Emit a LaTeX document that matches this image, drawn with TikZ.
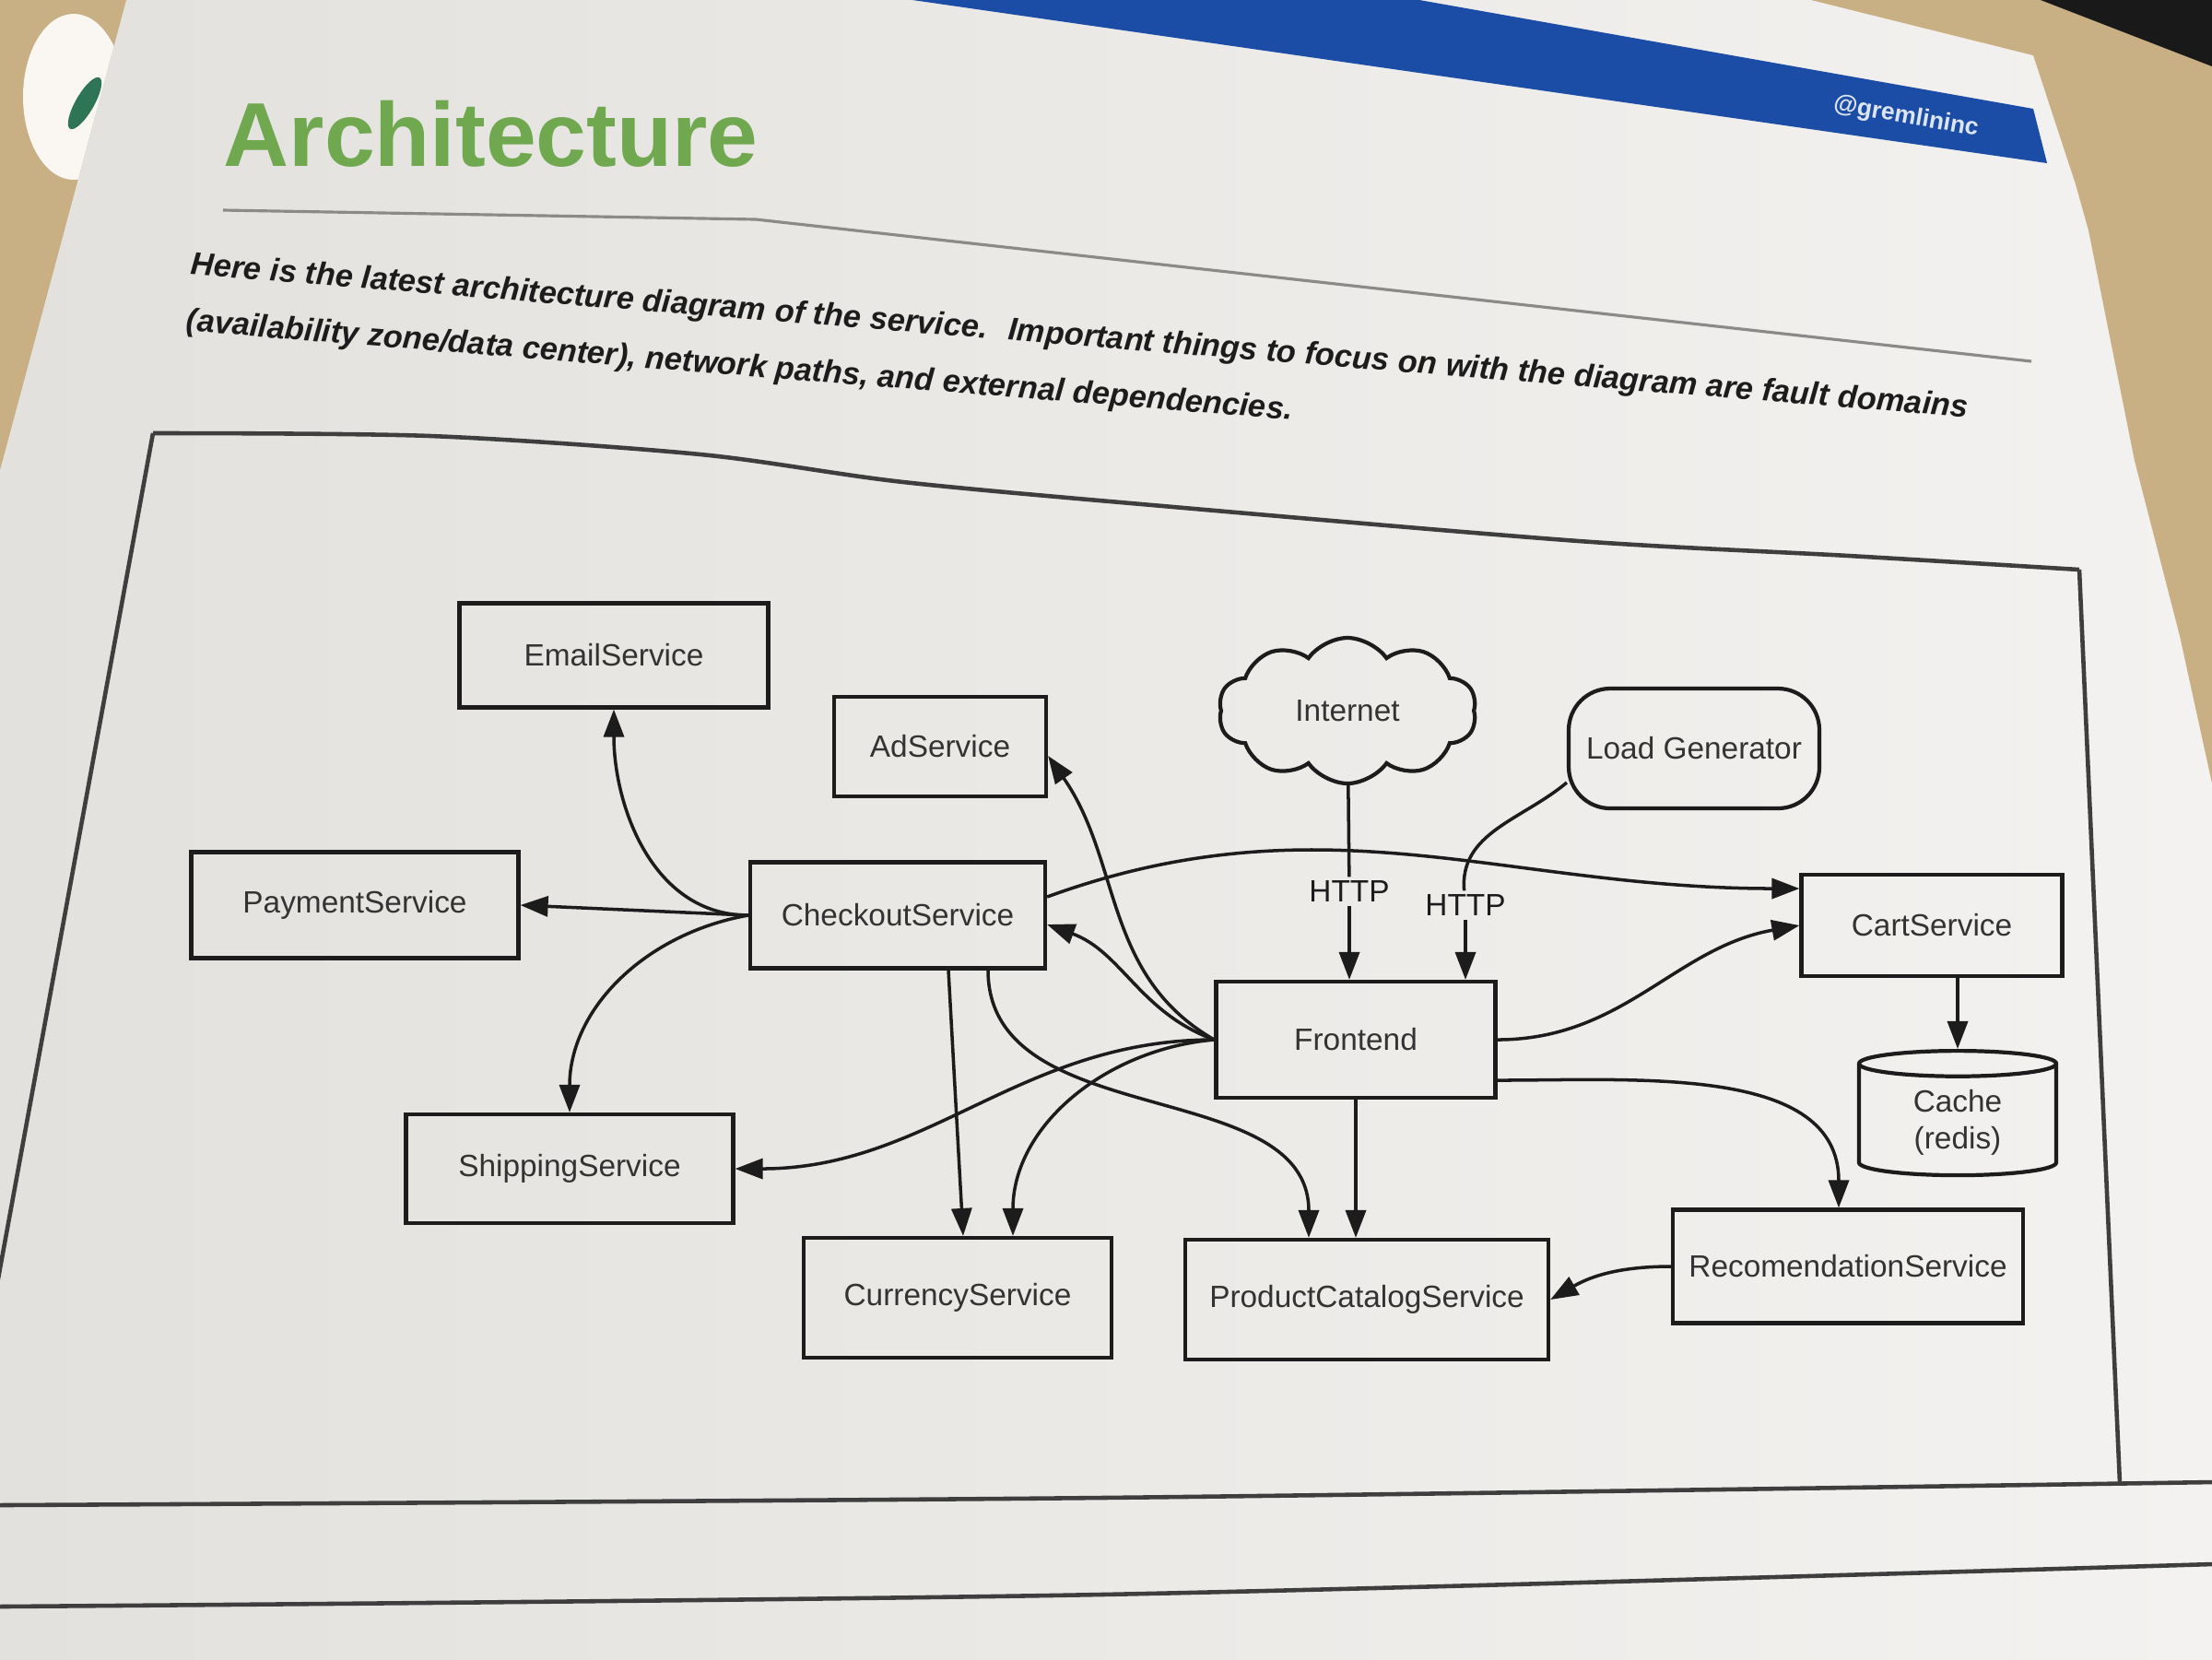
\documentclass[tikz,border=0pt]{standalone}
\usepackage{fontspec}
\setmainfont{Liberation Sans}
\setsansfont{Liberation Sans}
\usepackage{tikz}
\usetikzlibrary{arrows.meta,shapes.symbols,shapes.geometric}
\definecolor{paperD}{HTML}{E3E1DD}
\definecolor{paperL}{HTML}{F3F2F0}
\definecolor{tableB}{HTML}{C9AF84}
\definecolor{bannerB}{HTML}{1C4DA6}
\definecolor{titleG}{HTML}{6FA84F}
\definecolor{inkP}{HTML}{1C1C1C}
\definecolor{inkS}{HTML}{333333}
\definecolor{ruleG}{HTML}{8C8A88}
\definecolor{leafG}{HTML}{2E7556}
\tikzset{
  svc/.style={draw=inkP, line width=1.2pt, text=inkS,
              font=\fontsize{9.5}{11.5}\selectfont, inner sep=2pt},
  svcbox/.style={svc, rectangle},
  cloudbox/.style={svc, cloud, cloud puffs=10, cloud puff arc=110, aspect=1.7},
  loadbox/.style={svc, rectangle, rounded corners=4.5mm},
  storebox/.style={svc, cylinder, shape border rotate=90, aspect=0.25, align=center},
  flow/.style={-{Triangle[length=3mm, width=2.2mm]}, line width=1pt, color=inkP},
  wire/.style={line width=1pt, color=inkP},
  flowlab/.style={text=inkP, font=\fontsize{9.5}{11.5}\selectfont, inner sep=1pt},
  intro/.style={font=\fontsize{9.8}{17.5}\selectfont\bfseries\itshape, text=inkP,
                inner sep=0pt, align=left, anchor=north west},
  edgeline/.style={draw=inkP!85, line width=1.3pt},
}
\begin{document}
\begin{tikzpicture}
  \useasboundingbox (0,-18) rectangle (24,0);
  \clip (0,-18) rectangle (24,0);
  % sheet on the table
  \shade[left color=paperD, right color=paperL] (0,-18) rectangle (24,0);
  \fill[tableB] (0,0) -- (1.37,0) -- (0,-5.1) -- cycle;
  \begin{scope}
    \clip (0,0) -- (1.37,0) -- (0,-5.1) -- cycle;
    \fill[white!90!tableB] (0.8,-1.05) ellipse [x radius=0.55, y radius=0.9];
    \fill[leafG, rotate around={60:(0.92,-1.12)}] (0.92,-1.12) ellipse [x radius=0.32, y radius=0.1];
  \end{scope}
  \fill[tableB] (19.65,0) -- (24,0) -- (24,-8.5) -- (23.65,-6.9) -- (23.16,-5.0)
    -- (22.66,-2.5) -- (22.52,-2.0) -- (22.06,-0.6) -- cycle;
  \fill[black!90] (22.14,0) -- (24,0) -- (24,-0.72) -- cycle;
  \fill[bannerB] (9.9,0) -- (15.4,0) -- (22.06,-1.18) -- (22.21,-1.77) -- cycle;
  \node[rotate=-10, text=white!85!bannerB, font=\fontsize{7.5}{9}\selectfont\bfseries]
    (handle) at (20.68,-1.27) {@gremlininc};

  % heading
  \node[anchor=base west, inner sep=0pt, text=titleG,
        font=\fontsize{28}{32}\selectfont\bfseries] (title) at (2.42,-1.80) {Architecture};
  \draw[ruleG, line width=0.9pt] (2.42,-2.28) -- (8.2,-2.38) -- (22.04,-3.92);
  \node[intro, rotate=-4.6] (intro) at (2.08,-2.72)
    {Here is the latest architecture diagram of the service.~ Important things to focus on with the diagram are fault domains\\
     (availability zone/data center), network paths, and external dependencies.};

  % frame
  \draw[edgeline] plot[smooth] coordinates {(1.66,-4.70) (4.67,-4.73) (7.60,-4.93)
    (9.80,-5.23) (12.73,-5.50) (17.13,-5.87) (20.06,-6.03) (22.56,-6.18)};
  \draw[edgeline] (1.66,-4.70) -- (-0.47,-16.33);
  \draw[edgeline] (22.56,-6.18) -- (23.0,-16.1);
  \draw[edgeline] plot[smooth] coordinates {(0,-16.33) (11.94,-16.25) (24,-16.08)};
  \draw[edgeline] plot[smooth] coordinates {(0,-17.43) (11.94,-17.30) (24,-16.97)};

  % services
  \node[svcbox, minimum width=3.35cm, minimum height=1.13cm] (email) at (6.66,-7.11) {EmailService};
  \node[svcbox, minimum width=2.30cm, minimum height=1.08cm] (ad) at (10.20,-8.10) {AdService};
  \node[svcbox, minimum width=3.20cm, minimum height=1.15cm] (checkout) at (9.74,-9.93) {CheckoutService};
  \node[svcbox, minimum width=3.55cm, minimum height=1.15cm] (payment) at (3.85,-9.82) {PaymentService};
  \node[svcbox, minimum width=3.55cm, minimum height=1.18cm] (shipping) at (6.18,-12.68) {ShippingService};
  \node[svcbox, minimum width=3.34cm, minimum height=1.30cm] (currency) at (10.39,-14.08) {CurrencyService};
  \node[svcbox, minimum width=3.94cm, minimum height=1.30cm] (catalog) at (14.83,-14.10) {ProductCatalogService};
  \node[svcbox, minimum width=3.80cm, minimum height=1.23cm] (recommend) at (20.05,-13.74) {RecomendationService};
  \node[svcbox, minimum width=3.03cm, minimum height=1.26cm] (frontend) at (14.71,-11.28) {Frontend};
  \node[svcbox, minimum width=2.83cm, minimum height=1.10cm] (cart) at (20.96,-10.04) {CartService};
  \node[storebox, minimum width=2.14cm, minimum height=1.35cm] (cache) at (21.24,-12.18) {Cache\\(redis)};
  \node[cloudbox, minimum width=2.80cm, minimum height=1.58cm] (internet) at (14.62,-7.71) {Internet};
  \node[loadbox, minimum width=2.72cm, minimum height=1.30cm] (loadgen) at (18.38,-8.12) {Load Generator};
  \node[flowlab] (httpA) at (14.64,-9.67) {HTTP};
  \node[flowlab] (httpB) at (15.90,-9.82) {HTTP};

  % checkout calls
  \draw[flow] (checkout.west) to[out=180, in=-90] (email.south);
  \draw[flow] (checkout.west) -- (payment.east);
  \draw[flow] (checkout.west) to[out=190, in=90] (shipping.north);
  \draw[flow] ([xshift=5.5mm]checkout.south) -- ([xshift=0.6mm]currency.north);
  \draw[flow] ([xshift=9.8mm]checkout.south) to[out=-90, in=90] ([xshift=-6.3mm]catalog.north);
  \draw[flow] ([yshift=2mm]checkout.east) to[out=20, in=180] ([yshift=4mm]cart.west);

  % frontend calls
  \draw[flow] (frontend.west) to[out=150, in=-55] ([yshift=-1mm]ad.east);
  \draw[flow] (frontend.west) to[out=160, in=-20] ([yshift=-1mm]checkout.east);
  \draw[flow] (frontend.west) to[out=180, in=0] (shipping.east);
  \draw[flow] (frontend.west) to[out=185, in=90] ([xshift=6mm]currency.north);
  \draw[flow] (frontend.south) -- (frontend.south |- catalog.north);
  \draw[flow] (frontend.east) to[out=0, in=190] (cart.west);
  \draw[flow] ([yshift=-4.4mm]frontend.east) to[out=0, in=90] ([xshift=-1mm]recommend.north);

  % traffic in
  \draw[wire] (internet) -- (httpA);
  \draw[flow] (httpA) -- (httpA |- frontend.north);
  \draw[wire] (loadgen.195) to[out=220, in=95] (httpB);
  \draw[flow] (httpB) -- (httpB |- frontend.north);

  \draw[flow] (cache.north |- cart.south) -- (cache.north);
  \draw[flow] (recommend.west) to[out=180, in=30] (catalog.east);
\end{tikzpicture}
\end{document}
